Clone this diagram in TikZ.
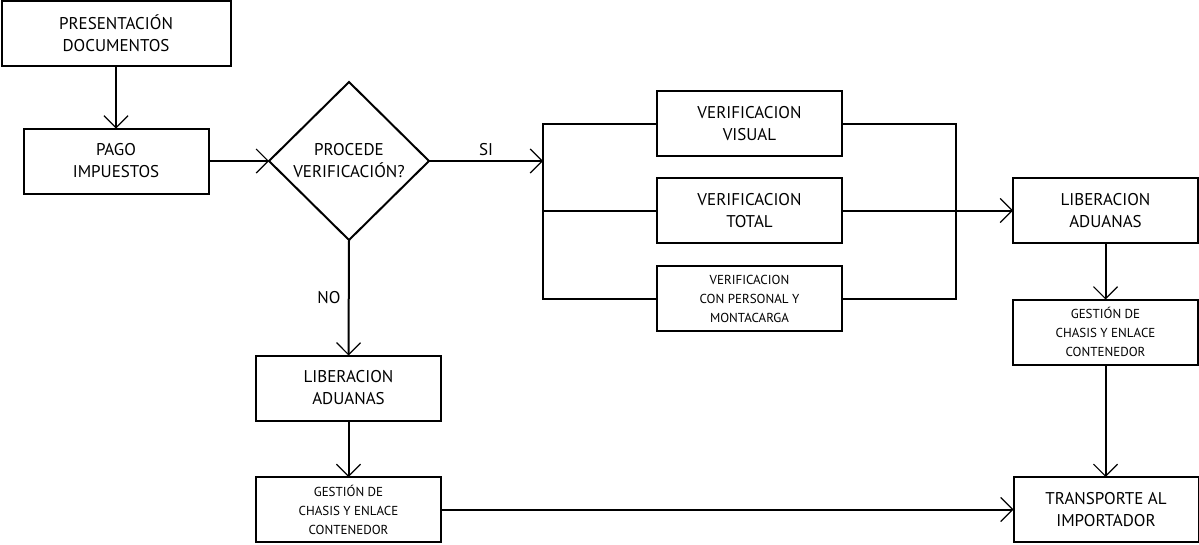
\documentclass[tikz,border=0pt]{standalone}
\usepackage{fontspec}
\setmainfont{PT Sans}
\usetikzlibrary{shapes.geometric,arrows.meta}
\begin{document}
\begin{tikzpicture}[x=1pt,y=-1pt,
  box/.style={draw,line width=2pt,minimum width=185pt,minimum height=65pt,inner sep=0pt,outer sep=0pt,align=center,font=\fontsize{17}{22}\selectfont},
  smallbox/.style={box,font=\fontsize{13}{19}\selectfont},
  arr/.style={line width=2pt,-{Straight Barb[length=12pt,width=24pt,line width=1.2pt]}},
  ln/.style={line width=2pt,line join=miter},
  lbl/.style={font=\fontsize{17}{21}\selectfont}]
\useasboundingbox (0,0) rectangle (1199,544);
\node[box,minimum width=229pt] (pres) at (116,33.5) {PRESENTACIÓN\\DOCUMENTOS};
\node[box] (pago) at (116,161) {PAGO\\IMPUESTOS};
\node[draw,diamond,line width=2pt,minimum width=160pt,minimum height=158pt,inner sep=0pt,outer sep=0pt,align=center,font=\fontsize{17}{22}\selectfont] (dia) at (349,161) {PROCEDE\\VERIFICACIÓN?};
\node[box] (vv) at (749.5,123.5) {VERIFICACION\\VISUAL};
\node[box] (vt) at (749.5,210.5) {VERIFICACION\\TOTAL};
\node[smallbox] (vp) at (749.5,298.5) {VERIFICACION\\CON PERSONAL Y\\MONTACARGA};
\node[box] (libR) at (1105.5,210.5) {LIBERACION\\ADUANAS};
\node[smallbox] (gesR) at (1105.5,332) {GESTIÓN DE\\CHASIS Y ENLACE\\CONTENEDOR};
\node[box] (trans) at (1106,509.5) {TRANSPORTE AL\\IMPORTADOR};
\node[box] (libL) at (348.5,388) {LIBERACION\\ADUANAS};
\node[smallbox] (gesL) at (348.5,509.5) {GESTIÓN DE\\CHASIS Y ENLACE\\CONTENEDOR};
\coordinate (bl) at (543,161);
\coordinate (blt) at (543,123.5);
\coordinate (blb) at (543,298.5);
\coordinate (brt) at (956,123.5);
\coordinate (brb) at (956,298.5);
\draw[arr] (pres.south) -- (pres.south |- pago.north);
\draw[arr] (pago.east) -- (dia.west);
\draw[arr] (dia.east) -- node[lbl,above=1pt] {SI} (bl);
\draw[ln] (vv.west) -- (blt) -- (blb) -- (vp.west);
\draw[ln] (blt |- vt) -- (vt.west);
\draw[ln] (vv.east) -- (brt) -- (brb) -- (vp.east);
\draw[arr] (vt.east) -- (libR.west);
\draw[arr] (dia.south) -- node[lbl,left=4pt] {NO} (libL.north);
\draw[arr] (libL.south) -- (gesL.north);
\draw[arr] (gesL.east) -- (trans.west);
\draw[arr] (libR.south) -- (gesR.north);
\draw[arr] (gesR.south) -- (gesR.south |- trans.north);
\end{tikzpicture}
\end{document}
